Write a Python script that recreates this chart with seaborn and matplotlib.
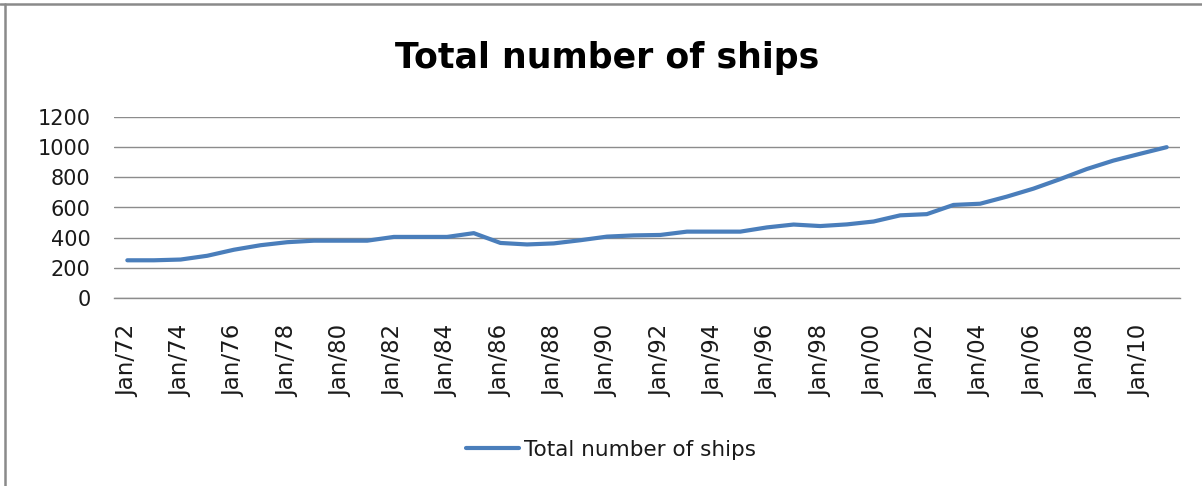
import matplotlib
matplotlib.use("Agg")
import matplotlib.pyplot as plt
import seaborn as sns
import pandas as pd
import numpy as np
from matplotlib.lines import Line2D

# ---- data ----
years = list(range(1972, 2012))
categories = [f"Jan/{y % 100:02d}" for y in years]
ships = [250, 250, 255, 280, 320, 350, 370, 380, 380, 380,
         405, 405, 405, 430, 365, 355, 362, 383, 407, 415,
         418, 440, 440, 440, 468, 487, 477, 488, 507, 548,
         556, 617, 625, 672, 725, 788, 855, 911, 956, 1000]
series_name = "Total number of ships"
title = "Total number of ships"
y_ticks = [0, 200, 400, 600, 800, 1000, 1200]

df = pd.DataFrame({"idx": np.arange(len(categories)), "cat": categories, "value": ships})

sns.set_theme(style="white")
plt.rcParams["font.family"] = ["DejaVu Sans"]

W, H = 1202, 486
fig = plt.figure(figsize=(W / 100, H / 100), dpi=100)
ax = fig.add_axes([114 / W, 1 - 298 / H, (1180 - 114) / W, (298 - 117) / H])

color = "#4A7EBB"
sns.lineplot(data=df, x="idx", y="value", ax=ax, color=color, linewidth=3.0,
             legend=False, solid_capstyle="round")

ax.set_xlim(-0.5, len(categories) - 0.5)
ax.set_ylim(0, 1200)
ax.set_yticks(y_ticks)
ax.set_yticklabels([str(v) for v in y_ticks], fontsize=15, color="#1a1a1a")
tick_idx = list(range(0, len(categories), 2))
ax.set_xticks(tick_idx)
ax.set_xticklabels([categories[i] for i in tick_idx], rotation=90, fontsize=16.5,
                   color="#1a1a1a", ha="center", va="top")
ax.tick_params(axis="y", length=0, pad=17)
ax.tick_params(axis="x", length=0, pad=19)
ax.set_xlabel("")
ax.set_ylabel("")
ax.grid(axis="y", color="#8c8c8c", linewidth=1.0)
ax.grid(axis="x", visible=False)
ax.set_axisbelow(True)
for s in ax.spines.values():
    s.set_visible(False)
ax.spines["bottom"].set_visible(True)
ax.spines["bottom"].set_color("#8c8c8c")
ax.spines["bottom"].set_linewidth(1.0)

# title
fig.text(607 / W, 1 - 58 / H, title, ha="center", va="center",
         fontsize=25, fontweight="bold", color="black")

# legend
handle = Line2D([0], [0], color=color, linewidth=3.0, solid_capstyle="round")
fig.legend([handle], [series_name], loc="center",
           bbox_to_anchor=(611 / W, 1 - 450 / H), frameon=False,
           fontsize=15.5, handlelength=2.45, handletextpad=0.2,
           labelcolor="#1a1a1a")

# chart-area border (top and left only)
fig.add_artist(Line2D([0, 1], [1 - 4 / H, 1 - 4 / H], color="#8a8a8a",
                      linewidth=1.8, transform=fig.transFigure))
fig.add_artist(Line2D([5 / W, 5 / W], [0, 1 - 4 / H], color="#8a8a8a",
                      linewidth=1.8, transform=fig.transFigure))

fig.savefig("out.png", dpi=100)
